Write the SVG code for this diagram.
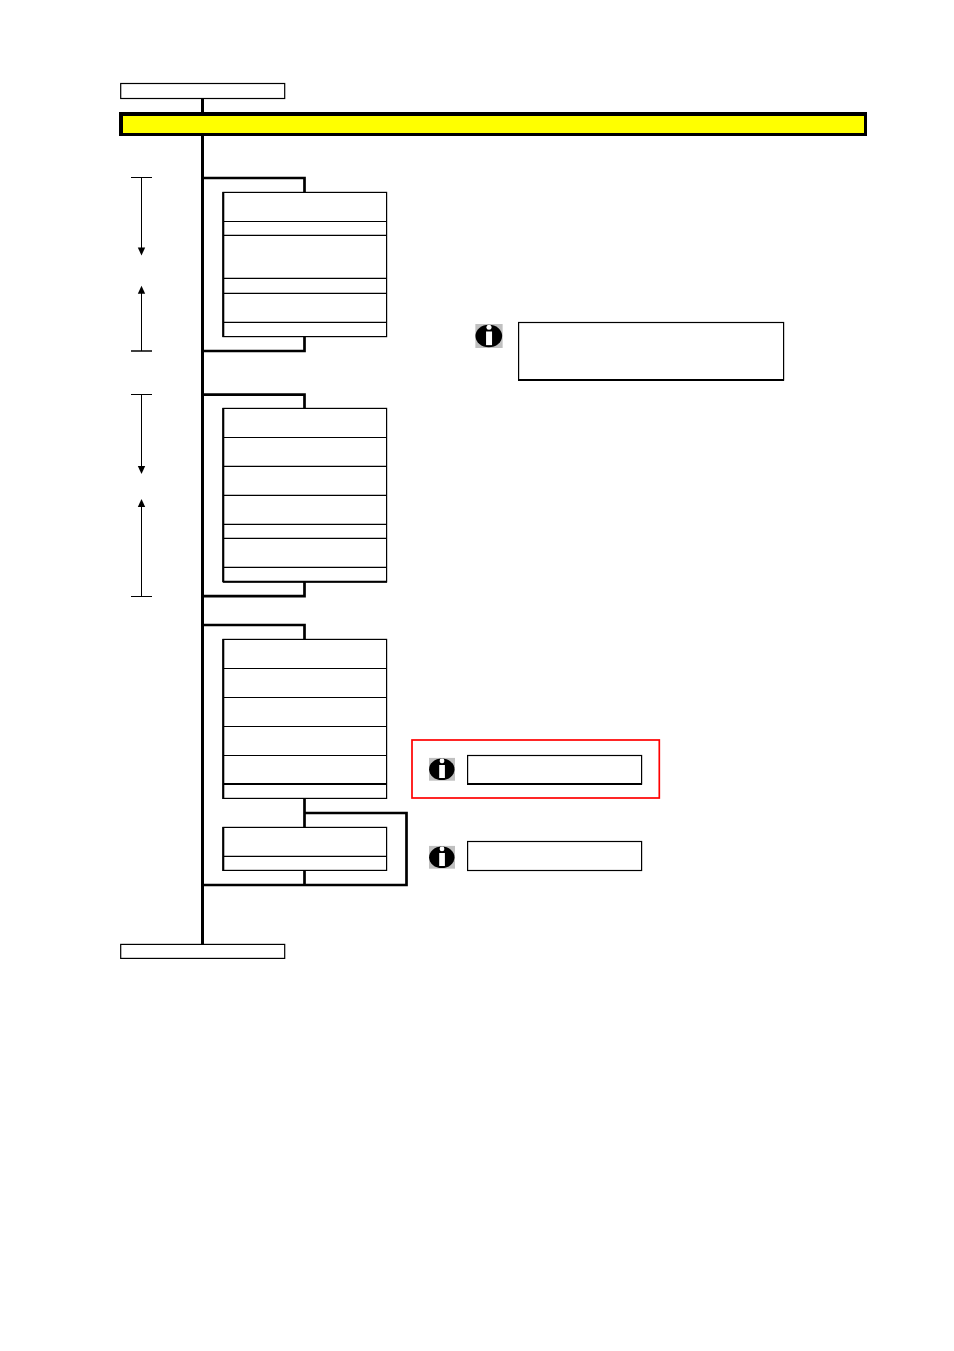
<svg xmlns="http://www.w3.org/2000/svg" width="954" height="1351" viewBox="0 0 954 1351">
<style>
.box{fill:#fff;stroke:#000;stroke-width:1.2}
.sep{stroke:#000;stroke-width:1.1;fill:none}
.heavy{stroke:#000;stroke-width:2;fill:none}
.wire{stroke:#000;stroke-width:2.7;fill:none}
.trunk{stroke:#000;stroke-width:3;fill:none}
.dim{stroke:#000;stroke-width:1;fill:none}
</style>
<defs>
<g id="info">
<rect x="-13" y="-11.4" width="26" height="22.8" fill="#c0c0c0"/>
<ellipse cx="-0.2" cy="0" rx="12.7" ry="10.8" fill="#000"/>
<circle cx="0" cy="-8.4" r="2.4" fill="#fff"/>
<rect x="-2.8" y="-4.3" width="5.7" height="13" fill="#fff"/>
</g>
<path id="ah" d="M-3.7 0H3.7L0 8Z" fill="#000"/>
</defs>
<rect width="954" height="1351" fill="#fff"/>
<g id="connectors">
<path class="trunk" d="M202.5 98V944"/>
<path class="wire" d="M202 178H304.5V192M202 351H304.5V337"/>
<path class="wire" d="M202 394.7H304.5V408M202 596.2H304.5V582"/>
<path class="wire" d="M202 625H304.5V639"/>
<path class="wire" d="M304.5 798V827M304.5 813H406.5V885H202M304.5 870V885"/>
</g>
<g id="start"><rect class="box" x="120.7" y="83.5" width="164" height="15"/></g>
<g id="banner"><rect x="119" y="112" width="748" height="24" fill="#000"/><rect x="123" y="116" width="741" height="17" fill="#ff0"/></g>
<g id="group-1">
<rect class="box" x="223" y="192.4" width="163.6" height="144.2"/>
<path class="heavy" d="M223.3 192V337"/>
<path class="sep" d="M223 221.5H387M223 235.4H387M223 278.4H387M223 293.4H387M223 322.4H387"/>
</g>
<g id="group-2">
<rect class="box" x="223" y="408.4" width="163.6" height="173.4"/>
<path class="heavy" d="M223.3 408V582M223 581.8H387"/>
<path class="sep" d="M223 437.5H387M223 466.4H387M223 495.4H387M223 524.4H387M223 538.4H387M223 567.4H387"/>
</g>
<g id="group-3">
<rect class="box" x="223" y="639.4" width="163.6" height="159"/>
<path class="heavy" d="M223.3 639V799M223 783.9H387"/>
<path class="sep" d="M223 668.5H387M223 697.5H387M223 726.5H387M223 755.5H387"/>
</g>
<g id="group-4">
<rect class="box" x="223" y="827.4" width="163.6" height="43"/>
<path class="heavy" d="M223.3 827V871"/>
<path class="sep" d="M223 856.4H387"/>
</g>
<g id="end"><rect class="box" x="120.7" y="944.4" width="164" height="14"/></g>
<g id="dimensions">
<path class="dim" d="M131 177.5H152M141.5 177.5V248"/><use href="#ah" x="141.5" y="247.5"/>
<path class="dim" d="M141.5 292V351"/><use href="#ah" transform="translate(141.5 285.7) scale(1 -1) translate(0 -8)"/>
<path class="heavy" style="stroke-width:1.5" d="M131 351H152"/>
<path class="dim" d="M131 394.5H152M141.5 394.5V467"/><use href="#ah" x="141.5" y="466"/>
<path class="dim" d="M141.5 505V596.5M131 596.5H152"/><use href="#ah" transform="translate(141.5 499) scale(1 -1) translate(0 -8)"/>
</g>
<g id="note-1">
<use href="#info" transform="translate(489 336) scale(1.05)"/>
<rect class="box" x="518.6" y="322.5" width="265" height="57.5"/>
<path class="heavy" d="M518 380H784"/>
</g>
<g id="note-2">
<rect x="412" y="740" width="247.3" height="58" fill="none" stroke="#f00" stroke-width="1.7"/>
<use href="#info" x="442" y="769.3"/>
<rect class="box" x="467.6" y="755.5" width="174" height="28.5"/>
<path class="heavy" d="M467 784H642"/>
</g>
<g id="note-3">
<use href="#info" x="442" y="857.3"/>
<rect class="box" x="467.6" y="841.5" width="174" height="29"/>
</g>
</svg>
